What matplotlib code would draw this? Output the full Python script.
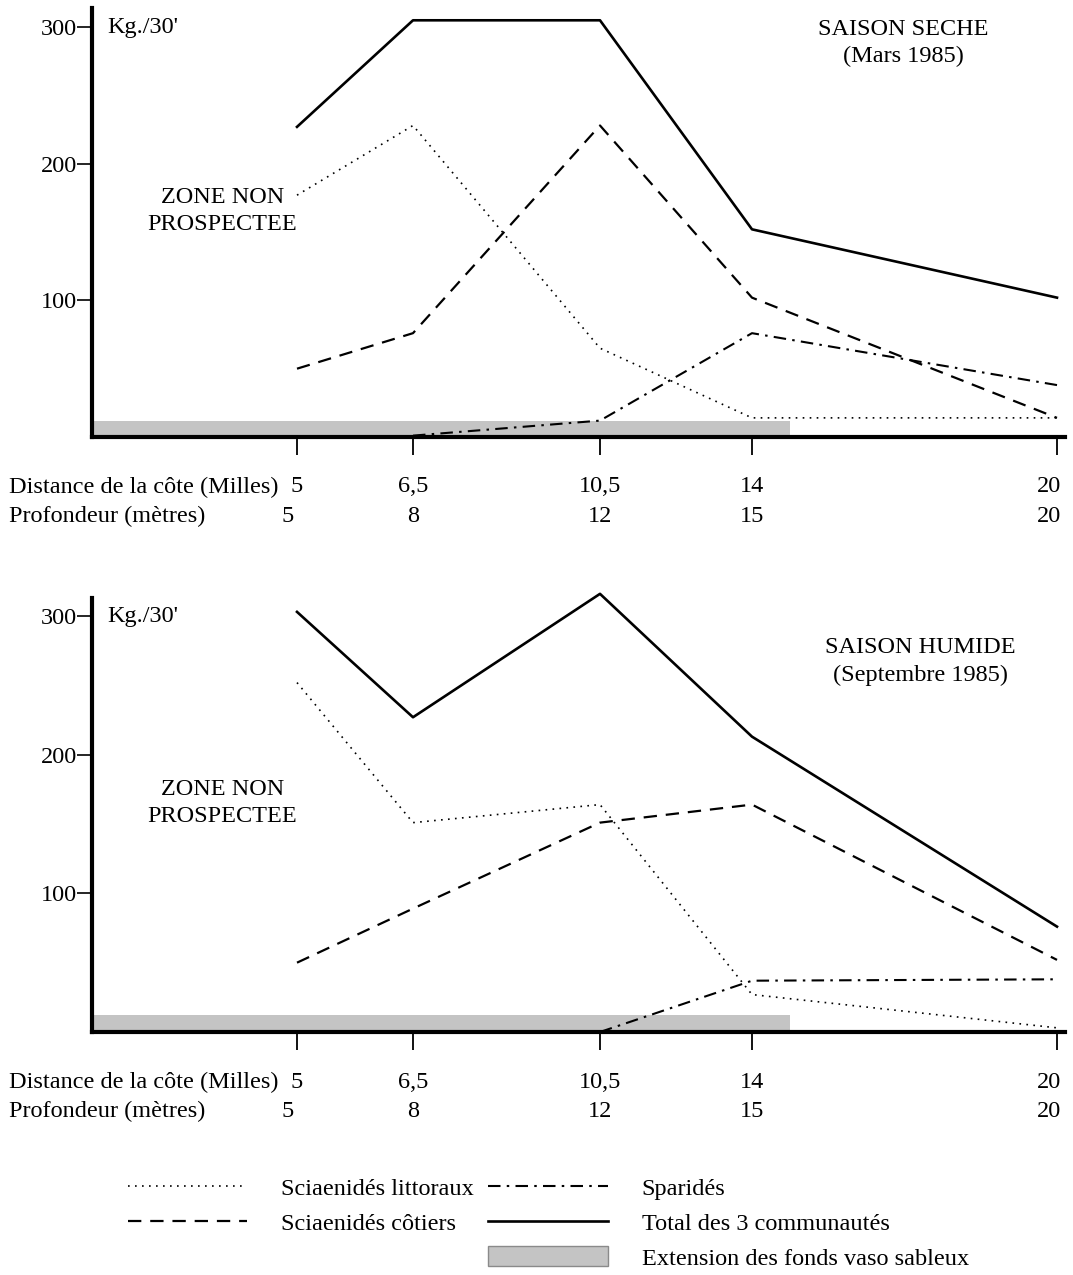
import numpy as np
import matplotlib.pyplot as plt
import matplotlib.patches as mpatches
from matplotlib.lines import Line2D

plt.rcParams['font.family'] = ['Liberation Serif', 'DejaVu Serif']

# Distances de la côte (milles) et profondeurs (m)
distances = [5, 6.5, 10.5, 14, 20]
dist_labels = ['5', '6,5', '10,5', '14', '20']
depth_labels = ['5', '8', '12', '15', '20']

# Saison sèche (Mars 1985), Kg./30'
seche_littoraux = [177, 228, 65, 14, 14]
seche_cotiers = [50, 76, 228, 102, 14]
seche_sparides = [np.nan, 1, 12, 76, 38]
seche_total = [227, 305, 305, 152, 102]

# Saison humide (Septembre 1985)
humide_littoraux = [252, 151, 164, 27, 3]
humide_cotiers = [50, 89, 151, 164, 52]
humide_sparides = [np.nan, np.nan, 0, 37, 38]
humide_total = [303, 227, 316, 213, 76]

# fonds vaso sableux : étendue (milles) et hauteur (Kg./30')
fonds_fin = 14.75
fonds_haut = 12

# l'axe des distances du dessin n'est pas linéaire : échelle par morceaux
axe_dist = [0, 5, 6.5, 10.5, 14, 20, 20.5]
axe_pos = [0, 205, 321, 508, 660, 965, 973]


def fwd(x):
    return np.interp(x, axe_dist, axe_pos)


def inv(p):
    return np.interp(p, axe_pos, axe_dist)


styles = {
    'littoraux': dict(color='black', lw=1.2, linestyle=(0, (1, 3.2))),
    'cotiers': dict(color='black', lw=1.6, linestyle=(0, (6, 4))),
    'sparides': dict(color='black', lw=1.5, linestyle=(0, (6, 3, 1.2, 3))),
    'total': dict(color='black', lw=1.9, linestyle='-'),
}
gris = '#c4c4c4'
fs = 17.5

fig = plt.figure(figsize=(10.73, 12.75), dpi=100)
W, H = 1073, 1275


def panneau(rect, top, data, titre, tpos):
    ax = fig.add_axes(rect)
    ax.set_xscale('function', functions=(fwd, inv))
    ax.set_xlim(0, 20.5)
    ax.set_ylim(0, top)
    lit, cot, spa, tot = data
    ax.fill_between([0, fonds_fin], 0, fonds_haut, color=gris, lw=0, zorder=1)
    ax.plot(distances, lit, **styles['littoraux'], zorder=3, clip_on=False)
    ax.plot(distances, cot, **styles['cotiers'], zorder=3, clip_on=False)
    ax.plot(distances, spa, **styles['sparides'], zorder=3, clip_on=False)
    ax.plot(distances, tot, **styles['total'], zorder=3, clip_on=False)

    for s in ['top', 'right']:
        ax.spines[s].set_visible(False)
    ax.spines['left'].set_linewidth(3)
    ax.spines['bottom'].set_linewidth(3)
    ax.spines['bottom'].set_zorder(4)

    ax.set_yticks([100, 200, 300])
    ax.set_yticklabels(['100', '200', '300'], fontsize=fs)
    ax.tick_params(axis='y', length=11, width=1.2, pad=0, direction='out')
    ax.set_xticks(distances)
    ax.set_xticklabels([])
    ax.tick_params(axis='x', length=13, width=1.3, direction='out')

    tr = ax.get_xaxis_transform()
    for d, dl, pl in zip(distances, dist_labels, depth_labels):
        ha = 'right' if d == 20 else 'center'
        dx = 3 if d == 20 else 0
        ax.annotate(dl, (d, 0), xycoords=tr, xytext=(dx, -36),
                    textcoords='offset points', ha=ha, va='center', fontsize=fs)
        ddx = -7 if d == 5 else 0
        ax.annotate(pl, (d, 0), xycoords=tr, xytext=(dx + ddx, -57),
                    textcoords='offset points', ha=ha, va='center', fontsize=fs)
    ax.annotate('Distance de la côte (Milles)', (0, 0), xycoords=tr,
                xytext=(-60, -36), textcoords='offset points',
                ha='left', va='center', fontsize=fs)
    ax.annotate('Profondeur (mètres)', (0, 0), xycoords=tr,
                xytext=(-60, -57), textcoords='offset points',
                ha='left', va='center', fontsize=fs)

    ax.text(0.016, 300, "Kg./30'", transform=ax.get_yaxis_transform(),
            ha='left', va='center', fontsize=fs)
    ax.text(0.134, 0.527, 'ZONE NON\nPROSPECTEE', transform=ax.transAxes,
            ha='center', va='center', fontsize=fs, linespacing=1.4)
    ax.text(tpos[0], tpos[1], titre, transform=ax.transAxes,
            ha='center', va='center', fontsize=fs, linespacing=1.4)
    return ax


panneau([92 / W, 1 - 437 / H, 973 / W, 429 / H], 314,
        (seche_littoraux, seche_cotiers, seche_sparides, seche_total),
        'SAISON SECHE\n(Mars 1985)', (0.834, 0.918))
panneau([92 / W, 1 - 1032 / H, 973 / W, 434 / H], 313,
        (humide_littoraux, humide_cotiers, humide_sparides, humide_total),
        'SAISON HUMIDE\n(Septembre 1985)', (0.851, 0.853))

# légende
handles = [
    Line2D([], [], **styles['littoraux']),
    Line2D([], [], **styles['cotiers']),
    Line2D([], [], lw=0),
    Line2D([], [], **styles['sparides']),
    Line2D([], [], **styles['total']),
    mpatches.Patch(facecolor=gris, edgecolor='#8a8a8a', lw=1),
]
labels = ['Sciaenidés littoraux', 'Sciaenidés côtiers', '',
          'Sparidés', 'Total des 3 communautés',
          'Extension des fonds vaso sableux']
fig.legend(handles, labels, ncol=2, loc='upper left',
           bbox_to_anchor=(128 / W, 1 - 1177 / H), frameon=False,
           fontsize=fs, handlelength=4.9, handleheight=0.9,
           handletextpad=1.4, columnspacing=0.6, labelspacing=0.46,
           borderpad=0, borderaxespad=0)

fig.savefig('out.png', dpi=100)
